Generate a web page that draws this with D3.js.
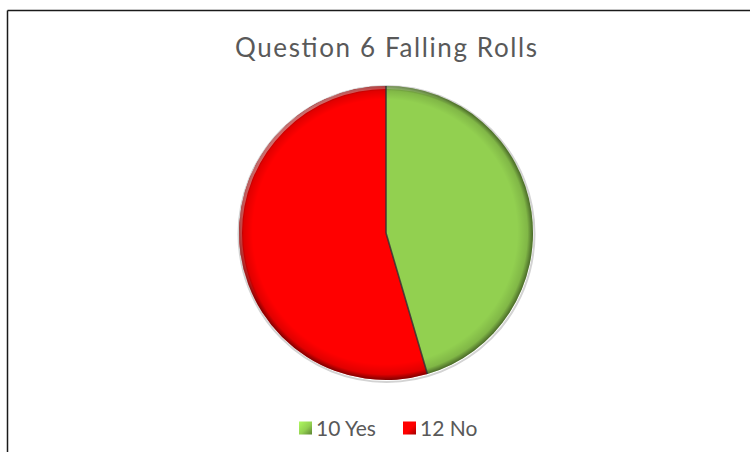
<!DOCTYPE html>
<html>
<head>
<meta charset="utf-8">
<script src="https://cdn.jsdelivr.net/npm/d3@7"></script>
<style>
  html, body { margin: 0; padding: 0; background: #fff; }
  svg { display: block; }
</style>
</head>
<body>
<svg id="chart" width="750" height="452"></svg>
<script>
// Survey answers for the pie
const categories = ["Yes", "No"];
const values = [10, 12];
const colors = ["#92D050", "#FF0000"];
const titleText = "Question 6 Falling Rolls";

const width = 750, height = 452;
const svg = d3.select("#chart");
const font = "Lato, 'Open Sans', sans-serif";

// Frame (top and left edges of the chart area)
svg.append("line").attr("x1", 7.5).attr("y1", 10.5).attr("x2", width).attr("y2", 10.5)
  .attr("stroke", "#1a1a1a").attr("stroke-width", 1.5);
svg.append("line").attr("x1", 7.5).attr("y1", 10.5).attr("x2", 7.5).attr("y2", height)
  .attr("stroke", "#1a1a1a").attr("stroke-width", 1.5);

// Title
svg.append("text")
  .attr("x", 235).attr("y", 57)
  .attr("font-family", font)
  .attr("font-size", 26)
  .attr("fill", "#595959")
  .attr("textLength", 302)
  .attr("lengthAdjust", "spacing")
  .text(titleText);

const defs = svg.append("defs");
const cx = 386, cy = 233, r = 147;

// Bevel shading: dark rim, widest at the lower right
const rim = defs.append("radialGradient").attr("id", "rim")
  .attr("gradientUnits", "userSpaceOnUse")
  .attr("cx", 0).attr("cy", 0).attr("r", r)
  .attr("fx", -10).attr("fy", -12);
rim.append("stop").attr("offset", "0.90").attr("stop-color", "#000").attr("stop-opacity", 0);
rim.append("stop").attr("offset", "0.965").attr("stop-color", "#000").attr("stop-opacity", 0.12);
rim.append("stop").attr("offset", "1").attr("stop-color", "#000").attr("stop-opacity", 0.5);

// Light rim on the upper left
const hl = defs.append("linearGradient").attr("id", "hl")
  .attr("gradientUnits", "userSpaceOnUse")
  .attr("x1", -r).attr("y1", -r).attr("x2", r).attr("y2", r);
hl.append("stop").attr("offset", "0").attr("stop-color", "#fff").attr("stop-opacity", 0.7);
hl.append("stop").attr("offset", "0.4").attr("stop-color", "#fff").attr("stop-opacity", 0);
hl.append("stop").attr("offset", "1").attr("stop-color", "#fff").attr("stop-opacity", 0);

// Legend swatch shading
categories.forEach((c, i) => {
  const g = defs.append("linearGradient").attr("id", "sw" + i)
    .attr("x1", "0").attr("y1", "0").attr("x2", "1").attr("y2", "1");
  g.append("stop").attr("offset", "0").attr("stop-color", d3.color(colors[i]).brighter(0.5));
  g.append("stop").attr("offset", "0.55").attr("stop-color", colors[i]);
  g.append("stop").attr("offset", "1").attr("stop-color", d3.color(colors[i]).darker(1.3));
});

const data = categories.map((c, i) => ({ category: c, value: values[i], color: colors[i] }));

const pie = d3.pie().sort(null).value(d => d.value);
const arc = d3.arc().innerRadius(0).outerRadius(r);
const arcs = pie(data);

const g = svg.append("g").attr("transform", `translate(${cx},${cy})`);

// Soft outline around the disc
g.append("circle").attr("r", r + 1).attr("cx", 0.5).attr("cy", 1)
  .attr("fill", "none").attr("stroke", "#b5b5b5").attr("stroke-width", 2).attr("opacity", 0.6);

g.selectAll("path.slice")
  .data(arcs)
  .join("path")
  .attr("class", "slice")
  .attr("d", arc)
  .attr("fill", d => d.data.color);

// Rim shading over each slice
g.selectAll("path.shade")
  .data(arcs)
  .join("path")
  .attr("class", "shade")
  .attr("d", arc)
  .attr("fill", "url(#rim)");

g.append("circle").attr("r", r - 1.5)
  .attr("fill", "none").attr("stroke", "url(#hl)").attr("stroke-width", 3);

// Dividers between slices
g.selectAll("line.div")
  .data(arcs)
  .join("line")
  .attr("class", "div")
  .attr("x1", 0).attr("y1", 0)
  .attr("x2", d => r * Math.sin(d.startAngle))
  .attr("y2", d => -r * Math.cos(d.startAngle))
  .attr("stroke", "#333").attr("stroke-width", 1.6).attr("opacity", 0.85);

// Legend
const legendItems = data.map(d => `${d.value} ${d.category}`);
const legend = svg.append("g").attr("transform", "translate(0,428)");
const itemX = [299, 403];
legendItems.forEach((label, i) => {
  const it = legend.append("g").attr("transform", `translate(${itemX[i]},0)`);
  it.append("rect").attr("x", 0).attr("y", -6.5).attr("width", 13).attr("height", 13)
    .attr("fill", `url(#sw${i})`);
  it.append("text").attr("x", 17).attr("y", 7.5)
    .attr("font-family", font).attr("font-size", 21).attr("fill", "#595959")
    .text(label);
});
</script>
</body>
</html>
